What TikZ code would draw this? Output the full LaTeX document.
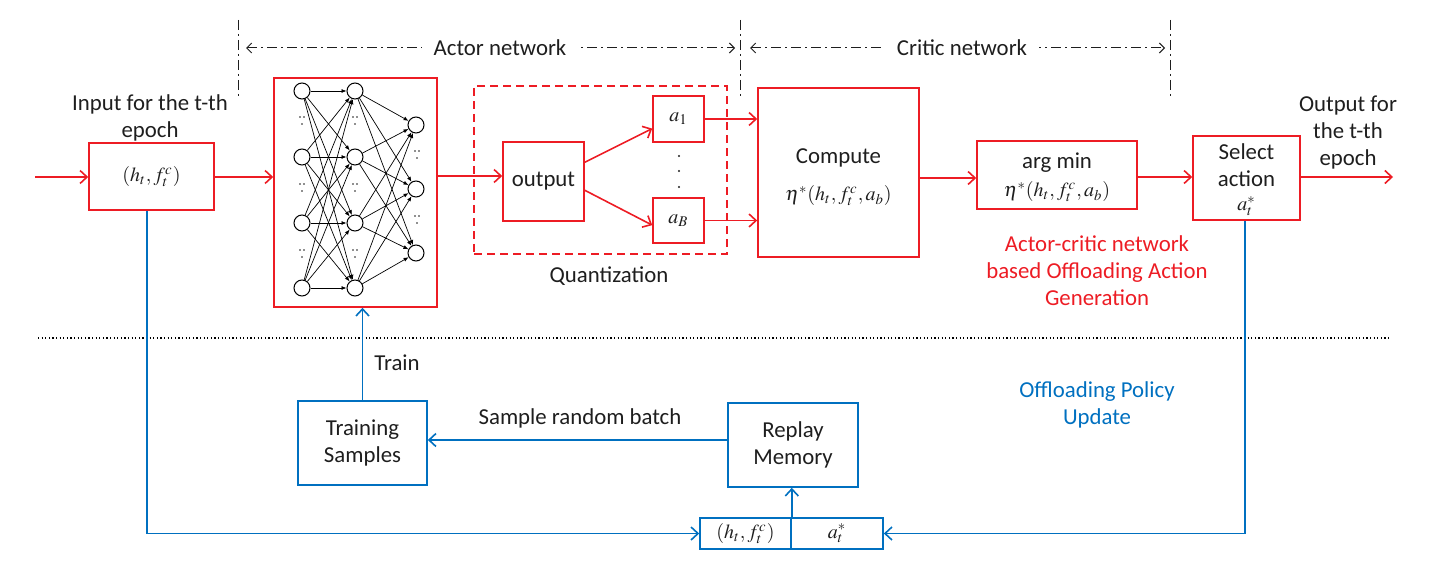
\documentclass[tikz,border=0pt]{standalone}
\usepackage{mathptmx}
\usepackage{fontspec}
\setmainfont{Carlito}
\usetikzlibrary{arrows.meta,calc}
\definecolor{myred}{RGB}{237,28,36}
\definecolor{myblue}{RGB}{0,112,192}
\definecolor{txt}{RGB}{30,30,30}
\begin{document}
\begin{tikzpicture}[x=0.5pt,y=-0.5pt,
  font=\fontsize{11.4}{13.5}\selectfont,
  redbox/.style={draw=myred,line width=0.8pt,inner sep=0pt,align=center,text=txt},
  bluebox/.style={draw=myblue,line width=0.8pt,inner sep=0pt,align=center,text=txt},
  redarr/.style={draw=myred,line width=0.8pt,-{Straight Barb[length=3.5pt,width=6.5pt]}},
  bluearr/.style={draw=myblue,line width=0.8pt,-{Straight Barb[length=3.5pt,width=6.5pt]}},
  neuron/.style={circle,draw=black,line width=0.5pt,minimum size=8pt,inner sep=0pt},
  syn/.style={line width=0.35pt,-{Latex[length=2.5pt,width=2pt]}},
  dashdot/.style={draw=txt,line width=0.5pt,dash pattern=on 5pt off 2pt on 1pt off 2pt},
  span/.style={dashdot,{Straight Barb[length=2.5pt,width=5pt]}-{Straight Barb[length=2.5pt,width=5pt]}},
  lbl/.style={text=txt,align=center,inner sep=1pt},
  mth/.style={font=\fontsize{10}{12}\selectfont}]
\useasboundingbox (0,0) rectangle (1444,572);

% top dash-dot guides
\foreach \xx/\nm in {238/va,740/vb,1170/vc}{
  \coordinate (\nm t) at (\xx,20);
  \coordinate (\nm b) at (\xx,98);
  \draw[dashdot] (\nm t) -- (\nm b);
}
\coordinate (aL) at (246,48);
\coordinate (aR) at (735,48);
\coordinate (cL) at (750,48);
\coordinate (cR) at (1165,48);
\draw[span] (aL) -- (aR);
\draw[span] (cL) -- (cR);
\node[lbl,fill=white,inner xsep=6pt] (actorlbl) at (500,48) {Actor network};
\node[lbl,fill=white,inner xsep=6pt] (criticlbl) at (962,48) {Critic network};

% main boxes
\node[redbox,mth,minimum width=62.5pt,minimum height=33.5pt] (inp) at (151.5,176.5) {$(h_t,f_t^c)$};
\node[lbl] (inlbl) at (150,117.5) {Input for the t-th\\epoch};
\node[redbox,minimum width=81.5pt,minimum height=114.5pt] (nn) at (355.5,192.5) {};
\node[draw=myred,line width=0.8pt,dash pattern=on 4pt off 2.5pt,minimum width=126.5pt,minimum height=84pt,inner sep=0pt] (quant) at (600.5,170) {};
\node[lbl] (quantlbl) at (609,276) {Quantization};
\node[redbox,minimum width=40.5pt,minimum height=39.5pt] (out) at (543.5,181.5) {output};
\node[redbox,mth,minimum width=25.5pt,minimum height=23pt] (a1) at (678.5,119) {$a_1$};
\node[redbox,mth,minimum width=25.5pt,minimum height=22.5pt] (aB) at (678.5,220.5) {$a_B$};
\foreach \yy in {156,171,187}{\fill[txt] (679,\yy) circle (0.6pt);}
\node[redbox,minimum width=80.5pt,minimum height=84.5pt] (comp) at (838.5,172.5) {};
\node[lbl] (comptxt) at (838.5,158) {Compute};
\node[lbl,mth] (compf) at (838.5,196) {$\eta^*(h_t,f_t^c,a_b)$};
\node[redbox,minimum width=80pt,minimum height=34pt] (arg) at (1057,175) {};
\node[lbl] (argtxt) at (1057,163) {arg min};
\node[lbl,mth] (argf) at (1057,192) {$\eta^*(h_t,f_t^c,a_b)$};
\node[redbox,minimum width=53.5pt,minimum height=42pt] (sel) at (1246.5,178) {};
\node[lbl] (seltxt) at (1246.5,165) {Select\\action};
\node[lbl,mth] (self) at (1246.5,206) {$a_t^*$};
\node[lbl] (outlbl) at (1348,132.5) {Output for\\the t-th\\epoch};
\node[lbl,text=myred] (redlbl) at (1097,270.5) {Actor-critic network\\based Offloading Action\\Generation};

% neural network
\foreach \i/\yy in {1/91,2/157,3/223,4/288}{
  \node[neuron] (p\i) at (302,\yy) {};
  \node[neuron] (q\i) at (355,\yy) {};
}
\foreach \k/\yy in {1/125,2/189,3/253}{
  \node[neuron] (r\k) at (416,\yy) {};
}
\foreach \i in {1,...,4}{
  \foreach \j in {1,...,4}{\draw[syn] (p\i) -- (q\j);}
  \foreach \k in {1,...,3}{\draw[syn] (q\i) -- (r\k);}
}
\foreach \xx/\yy in {302/120,302/187,302/253,355/120,355/187,355/253,417/154,417/219}{
  \fill[txt] (\xx-2,\yy-3) circle (0.45pt);
  \fill[txt] (\xx+2,\yy-3) circle (0.45pt);
  \fill[txt] (\xx,\yy+4) circle (0.45pt);
}

% red flow
\coordinate (src) at (35,177);
\coordinate (dst) at (1393,177);
\draw[redarr] (src) -- (src -| inp.west);
\draw[redarr] (inp.east |- 0,177) -- (nn.west |- 0,177);
\draw[redarr] (nn.east |- 0,176) -- (out.west |- 0,176);
\draw[redarr] (out.25) -- (a1.200);
\draw[redarr] (out.-12) -- (aB.190);
\draw[redarr] (a1.east) -- (a1.east -| comp.west);
\draw[redarr] (aB.east) -- (aB.east -| comp.west);
\draw[redarr] (comp.east |- 0,178) -- (arg.west |- 0,178);
\draw[redarr] (arg.east |- 0,177) -- (sel.west |- 0,177);
\draw[redarr] (sel.east |- dst) -- (dst);

% separator
\coordinate (sepL) at (38,338);
\coordinate (sepR) at (1390,338);
\draw[line width=0.6pt,dash pattern=on 0.6pt off 1.2pt] (sepL) -- (sepR);

% bottom part
\node[bluebox,minimum width=64.5pt,minimum height=42pt] (tr) at (362.5,443) {Training\\Samples};
\node[bluebox,minimum width=65pt,minimum height=42pt] (rep) at (793,445) {Replay\\Memory};
\node[bluebox,mth,minimum width=45.5pt,minimum height=15.5pt] (bl) at (745.5,533.5) {$(h_t,f_t^c)$};
\node[bluebox,mth,minimum width=46pt,minimum height=15.5pt] (br) at (837,533.5) {$a_t^*$};
\node[lbl] (trainlbl) at (397,363) {Train};
\node[lbl] (samplbl) at (580,418) {Sample random batch};
\node[lbl,text=myblue] (bluelbl) at (1097,404.5) {Offloading Policy\\Update};

\draw[bluearr] (tr.north) -- (tr.north |- nn.south);
\draw[bluearr] (rep.west |- 0,440) -- (tr.east |- 0,440);
\draw[bluearr] (bl.north east) -- (bl.north east |- rep.south);
\draw[bluearr] (inp.south -| 147,0) -- (bl.west -| 147,0) -- (bl.west);
\draw[bluearr] (sel.south -| 1245,0) -- (br.east -| 1245,0) -- (br.east);
\end{tikzpicture}
\end{document}
